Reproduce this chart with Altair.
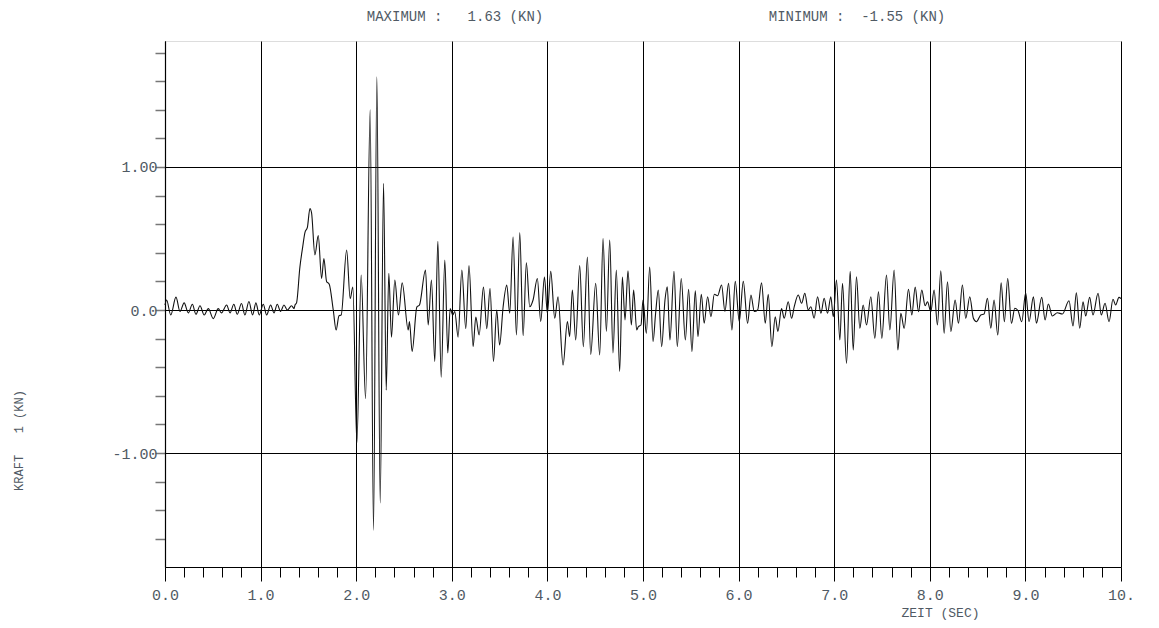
import altair as alt
import pandas as pd

# ---- data (time in s, force in kN) ----
time_s = [
    0.0, 0.017, 0.06, 0.115, 0.157, 0.2, 0.244, 0.286, 0.324, 0.366, 0.41, 0.453, 0.505, 0.557, 0.59,
    0.645, 0.68, 0.72, 0.756, 0.80, 0.836, 0.878, 0.916, 0.951, 0.986, 1.028, 1.063, 1.105, 1.14, 1.174,
    1.209, 1.244, 1.28, 1.324, 1.35, 1.36, 1.376, 1.411, 1.44, 1.463, 1.49, 1.516, 1.533, 1.568, 1.603,
    1.638, 1.662, 1.69, 1.718, 1.76,
    1.79, 1.82, 1.843, 1.90, 1.937, 1.965, 2.007, 2.052, 2.098, 2.146, 2.181, 2.216, 2.251, 2.286, 2.314,
    2.341, 2.369, 2.404, 2.442, 2.481, 2.544, 2.557, 2.585, 2.634, 2.662, 2.725, 2.753, 2.787, 2.822,
    2.854, 2.889, 2.927, 2.958, 2.983, 3.01, 3.031,
    3.066, 3.105, 3.146, 3.18, 3.223, 3.251, 3.286, 3.331, 3.366, 3.40, 3.436, 3.47, 3.50, 3.537, 3.575,
    3.606, 3.641, 3.676, 3.711, 3.746, 3.78, 3.815, 3.85, 3.895, 3.93, 3.969, 4.0, 4.035, 4.077, 4.111,
    4.164, 4.209, 4.233, 4.261, 4.296, 4.338, 4.376, 4.418, 4.453, 4.505, 4.547, 4.582, 4.617, 4.652,
    4.686, 4.721, 4.756, 4.784, 4.812, 4.843, 4.878, 4.902, 4.934, 4.951, 4.979, 5.0, 5.035, 5.07, 5.105,
    5.132, 5.16, 5.195, 5.23, 5.254, 5.282, 5.324, 5.359, 5.40, 5.443,
    5.477, 5.512, 5.547, 5.575, 5.61, 5.64, 5.676, 5.711, 5.746, 5.78, 5.822, 5.857, 5.895, 5.93, 5.965,
    6.007, 6.049, 6.094, 6.129, 6.164, 6.199, 6.24, 6.279, 6.31, 6.348, 6.383, 6.411, 6.449, 6.477,
    6.519, 6.554, 6.582, 6.624, 6.659, 6.693, 6.728, 6.756, 6.79, 6.826, 6.861, 6.895, 6.93, 6.965,
    6.99, 7.024, 7.059, 7.087, 7.129, 7.167, 7.199, 7.233, 7.268, 7.303, 7.338, 7.383, 7.425, 7.463,
    7.498, 7.547, 7.582, 7.627, 7.666, 7.697, 7.732, 7.777, 7.812, 7.847, 7.882, 7.916, 7.951, 7.976,
    8.01, 8.045, 8.08, 8.115, 8.15, 8.185, 8.22, 8.265, 8.30, 8.341, 8.376, 8.418, 8.456, 8.488, 8.533,
    8.568, 8.603, 8.638, 8.672, 8.711, 8.746, 8.78, 8.815, 8.854, 8.889, 8.923, 8.962, 9.003, 9.038,
    9.084, 9.115, 9.171, 9.206, 9.24, 9.282, 9.334, 9.387, 9.456, 9.498, 9.533, 9.568, 9.603, 9.631,
    9.672, 9.707, 9.76, 9.794, 9.833, 9.875, 9.916, 9.944, 9.979, 10.0,
]
force_kn = [
    0.035, 0.07, -0.035, 0.09, -0.01, 0.05, -0.02, 0.04, -0.03, 0.03, -0.035, 0.01, -0.06, 0.01, -0.02,
    0.035, -0.02, 0.04, -0.03, 0.045, -0.035, 0.06, -0.035, 0.05, -0.035, 0.04, -0.035, 0.035, -0.02, 0.04,
    -0.01, 0.035, 0.0, 0.03, 0.01, 0.035, 0.05, 0.30, 0.44, 0.54, 0.58, 0.71, 0.68, 0.385, 0.52,
    0.22, 0.36, 0.2, 0.18, 0.0,
    -0.14, -0.04, -0.035, 0.42, 0.08, 0.16, -0.93, 0.245, -0.62, 1.40, -1.54, 1.63, -1.35, 0.886, -0.56,
    0.256, -0.19, 0.21, -0.035, 0.19, -0.14, -0.08, -0.29, 0.02, 0.035, 0.28, -0.105, 0.21, -0.36,
    0.48, -0.47, 0.35, -0.30, 0.01, -0.035, -0.01,
    -0.19, 0.28, -0.13, 0.31, -0.256, -0.05, -0.175, 0.16, -0.13, 0.15, -0.36, 0.0, -0.245, 0.023, 0.175,
    -0.023, 0.51, -0.175, 0.54, -0.18, 0.33, 0.023, 0.07, 0.22, -0.08, 0.23, -0.023, 0.27, -0.058, 0.093,
    -0.385, -0.08, -0.186, 0.14, -0.21, 0.31, -0.256, 0.37, -0.31, 0.186, -0.315, 0.50, -0.15, 0.49,
    -0.30, 0.28, -0.43, 0.23, -0.07, 0.275, -0.105, 0.14, -0.14, -0.117, -0.105, 0.07, -0.163, 0.30, -0.22,
    -0.023, 0.14, -0.256, 0.07, 0.163, -0.21, 0.27, -0.256, 0.22, -0.21,
    0.145, -0.29, 0.135, -0.186, 0.11, -0.093, 0.093, -0.047, 0.11, 0.1, 0.175, -0.01, 0.186, -0.14, 0.2,
    -0.08, 0.2, -0.093, 0.105, -0.01, 0.0, 0.19, -0.093, 0.11, -0.256, -0.047, -0.15, 0.01, -0.058,
    0.058, -0.058, 0.023, 0.105, 0.047, 0.117, 0.0, 0.023, -0.058, 0.093, -0.023, 0.082, -0.023, 0.093,
    -0.047, 0.21, -0.21, 0.186, -0.373, 0.27, -0.28, 0.233, -0.128, 0.035, -0.105, 0.093, -0.198, 0.128,
    -0.198, 0.245, -0.14, 0.28, -0.28, -0.023, -0.128, 0.145, -0.035, 0.16, -0.012, 0.14, 0.03, 0.058,
    -0.012, 0.14, -0.105, 0.275, -0.163, 0.198, -0.15, 0.07, -0.093, 0.175, -0.058, 0.093, -0.058, -0.082, -0.035,
    -0.028, 0.082, -0.128, 0.07, -0.175, 0.19, -0.082, 0.22, -0.093, 0.012, -0.005, -0.082, 0.12, -0.082,
    0.093, -0.093, 0.088, -0.07, 0.042, -0.042, -0.019, -0.028, 0.065, -0.112, 0.12, -0.128, 0.058, -0.042,
    0.088, -0.035, 0.117, -0.035, 0.047, -0.082, 0.075, 0.035, 0.088, 0.08,
]

x_tick_values = [
    0.0, 0.2, 0.4, 0.6, 0.8, 1.0, 1.2, 1.4, 1.6, 1.8, 2.0, 2.2, 2.4, 2.6, 2.8, 3.0, 3.2, 3.4, 3.6, 3.8,
    4.0, 4.2, 4.4, 4.6, 4.8, 5.0, 5.2, 5.4, 5.6, 5.8, 6.0, 6.2, 6.4, 6.6, 6.8, 7.0, 7.2, 7.4, 7.6, 7.8,
    8.0, 8.2, 8.4, 8.6, 8.8, 9.0, 9.2, 9.4, 9.6, 9.8, 10.0,
]
y_tick_values = [-1.8, -1.6, -1.4, -1.2, -1.0, -0.8, -0.6, -0.4, -0.2, 0.0,
                 0.2, 0.4, 0.6, 0.8, 1.0, 1.2, 1.4, 1.6, 1.8]

title_max = "MAXIMUM :\u00a0\u00a0\u00a01.63 (KN)"
title_min = "MINIMUM :\u00a0\u00a0-1.55 (KN)"
y_title = "KRAFT\u00a0\u00a0\u00a01 (KN)"
x_title = "ZEIT (SEC)"

FONT = "Liberation Mono"
TEXT_COLOR = "#505a64"
IS_INT = "abs(datum.value - round(datum.value)) < 1e-6"

df = pd.DataFrame({"t": time_s, "f": force_kn})

x_axis = alt.Axis(
    values=x_tick_values,
    title=x_title,
    titleFont=FONT, titleFontSize=13, titleFontWeight="normal", titleColor=TEXT_COLOR,
    titleX=775, titleY=45, titleAlign="center", titleBaseline="middle", titleAngle=0,
    labelExpr=f"datum.value == 10 ? '10.' : ({IS_INT} ? format(datum.value, '.1f') : '')",
    labelFont=FONT, labelFontSize=15, labelColor=TEXT_COLOR, labelPadding=6,
    labelFlush=False, labelOverlap=False,
    domainColor="#000", domainWidth=1.2,
    tickColor="#000", tickWidth=1,
    tickSize={"condition": {"test": IS_INT, "value": 14}, "value": 10},
    grid=True, gridColor="#000", gridWidth=1,
    gridOpacity={"condition": {"test": IS_INT, "value": 1}, "value": 0},
)

y_axis = alt.Axis(
    values=y_tick_values,
    title=y_title,
    titleFont=FONT, titleFontSize=12, titleFontWeight="normal", titleColor=TEXT_COLOR,
    titleX=-147, titleY=399, titleAlign="center", titleBaseline="middle", titleAngle=-90,
    labelExpr=("datum.value == 0 ? '0.0' : (abs(datum.value - 1) < 1e-6 ? '1.00' : "
               "(abs(datum.value + 1) < 1e-6 ? '-1.00' : ''))"),
    labelFont=FONT, labelFontSize=15, labelColor=TEXT_COLOR, labelPadding=-2,
    labelOverlap=False, labelFlush=False,
    domainColor="#000", domainWidth=1.2,
    tickColor="#777", tickWidth=1.5, tickSize=10,
    grid=True, gridColor="#000", gridWidth=1,
    gridOpacity={"condition": {"test": IS_INT, "value": 1}, "value": 0},
)

line = alt.Chart(df).mark_line(color="#111", strokeWidth=1.1, interpolate="monotone").encode(
    x=alt.X("t:Q", scale=alt.Scale(domain=[0, 10], nice=False, zero=False), axis=x_axis),
    y=alt.Y("f:Q", scale=alt.Scale(domain=[-1.797, 1.881], nice=False, zero=False), axis=y_axis),
)

hdr = pd.DataFrame({"label": [title_max, title_min], "pos": ["max", "min"]})
hdr_max = alt.Chart(hdr[hdr.pos == "max"]).mark_text(
    font=FONT, fontSize=14, color=TEXT_COLOR, align="center", baseline="middle"
).encode(text="label:N", x=alt.value(290), y=alt.value(-24))
hdr_min = alt.Chart(hdr[hdr.pos == "min"]).mark_text(
    font=FONT, fontSize=14, color=TEXT_COLOR, align="center", baseline="middle"
).encode(text="label:N", x=alt.value(692), y=alt.value(-24))

chart = alt.layer(line, hdr_max, hdr_min).properties(
    width=956, height=526,
    autosize=alt.AutoSizeParams(type="none"),
    padding={"left": 157, "top": 33, "right": 30, "bottom": 53},
).configure_view(stroke="#777", strokeWidth=1.5).configure(background="white")

chart.save("out.html", embed_options={"renderer": "svg", "actions": False})
